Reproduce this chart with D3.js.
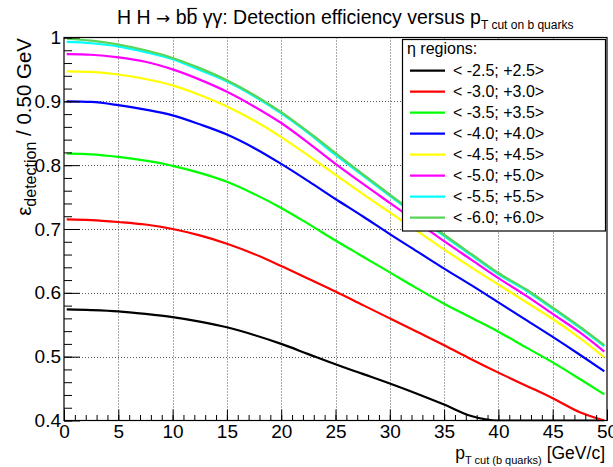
<!DOCTYPE html>
<html>
<head>
<meta charset="utf-8">
<script src="https://cdn.jsdelivr.net/npm/d3@7"></script>
<style>
  body { margin: 0; background: #fff; }
  svg { display: block; font-family: "Liberation Sans", Arial, Helvetica, sans-serif; }
</style>
</head>
<body>
<svg id="chart" width="613" height="467"></svg>
<script>
// pT cut on b quarks [GeV/c] at which the efficiency is sampled
const ptCut = [0.25, 2.5, 5, 7.5, 10, 12.5, 15, 17.5, 20, 22.5, 25, 27.5, 30, 32.5, 35, 37.5, 40, 42.5, 45, 47.5, 49.75];

// detection efficiency for each |eta| acceptance window
const effEta25 = [0.574, 0.573, 0.571, 0.567, 0.562, 0.555, 0.546, 0.534, 0.520, 0.504, 0.488, 0.473, 0.458, 0.442, 0.425, 0.407, 0.392, 0.379, 0.366, 0.353, 0.342];
const effEta30 = [0.715, 0.714, 0.711, 0.707, 0.700, 0.690, 0.677, 0.661, 0.642, 0.622, 0.602, 0.581, 0.560, 0.539, 0.518, 0.496, 0.475, 0.455, 0.435, 0.413, 0.394];
const effEta35 = [0.818, 0.817, 0.813, 0.807, 0.799, 0.788, 0.774, 0.755, 0.733, 0.708, 0.682, 0.657, 0.632, 0.607, 0.583, 0.561, 0.539, 0.515, 0.491, 0.465, 0.441];
const effEta40 = [0.900, 0.899, 0.894, 0.887, 0.878, 0.864, 0.848, 0.827, 0.802, 0.775, 0.747, 0.720, 0.692, 0.665, 0.638, 0.612, 0.585, 0.558, 0.531, 0.503, 0.477];
const effEta45 = [0.947, 0.946, 0.942, 0.935, 0.925, 0.910, 0.892, 0.870, 0.844, 0.815, 0.785, 0.755, 0.726, 0.697, 0.668, 0.640, 0.613, 0.586, 0.559, 0.529, 0.499];
const effEta50 = [0.974, 0.973, 0.969, 0.962, 0.950, 0.934, 0.915, 0.892, 0.866, 0.835, 0.802, 0.771, 0.741, 0.711, 0.681, 0.652, 0.623, 0.596, 0.567, 0.538, 0.508];
const effEta55 = [0.993, 0.991, 0.986, 0.977, 0.966, 0.949, 0.931, 0.908, 0.881, 0.850, 0.816, 0.784, 0.752, 0.720, 0.689, 0.659, 0.629, 0.604, 0.575, 0.545, 0.516];
const effEta60 = [0.998, 0.995, 0.989, 0.980, 0.968, 0.952, 0.933, 0.910, 0.883, 0.852, 0.819, 0.786, 0.754, 0.722, 0.691, 0.661, 0.631, 0.606, 0.577, 0.547, 0.518];

const etaLabels = ["< -2.5; +2.5>", "< -3.0; +3.0>", "< -3.5; +3.5>", "< -4.0; +4.0>",
                   "< -4.5; +4.5>", "< -5.0; +5.0>", "< -5.5; +5.5>", "< -6.0; +6.0>"];
const etaColors = ["#000000", "#ff0000", "#00ff00", "#0000ff", "#ffff00", "#ff00ff", "#00ffff", "#59d454"];

const xTickLabels = [0, 5, 10, 15, 20, 25, 30, 35, 40, 45, 50];
const yTickLabels = [0.4, 0.5, 0.6, 0.7, 0.8, 0.9, 1];

const series = [effEta25, effEta30, effEta35, effEta40, effEta45, effEta50, effEta55, effEta60];

const svg = d3.select("#chart");
const frame = { left: 64, right: 607, top: 37.5, bottom: 420.5 };

const x = d3.scaleLinear().domain([0, 50]).range([frame.left, frame.right]);
const y = d3.scaleLinear().domain([0.4, 1]).range([frame.bottom, frame.top]).clamp(true);

svg.append("rect").attr("width", 613).attr("height", 467).attr("fill", "#fff");

// dotted grid
const grid = svg.append("g").attr("stroke", "#555").attr("stroke-width", 1).attr("stroke-dasharray", "1,2");
grid.selectAll(".gx").data(xTickLabels.slice(1, -1)).join("line")
  .attr("x1", d => Math.round(x(d)) + 0.5).attr("x2", d => Math.round(x(d)) + 0.5)
  .attr("y1", frame.top).attr("y2", frame.bottom);
grid.selectAll(".gy").data(yTickLabels.slice(1, -1)).join("line")
  .attr("y1", d => Math.round(y(d)) + 0.5).attr("y2", d => Math.round(y(d)) + 0.5)
  .attr("x1", frame.left).attr("x2", frame.right);

// curves
svg.append("defs").append("clipPath").attr("id", "plotClip")
  .append("rect").attr("x", frame.left).attr("y", frame.top - 1)
  .attr("width", frame.right - frame.left).attr("height", frame.bottom - frame.top + 2);

const line = d3.line().x((d, i) => x(ptCut[i])).y(d => y(d)).curve(d3.curveMonotoneX);
svg.append("g").attr("clip-path", "url(#plotClip)")
  .selectAll("path").data(series).join("path")
  .attr("d", d => line(d))
  .attr("fill", "none")
  .attr("stroke", (d, i) => etaColors[i])
  .attr("stroke-width", 2.2)
  .attr("stroke-linejoin", "round");

// axes with inward ticks
const minorX = d3.range(0, 51, 1);
const minorY = d3.range(0.4, 1.0001, 0.02);
const fontSize = 19;

const xAxisG = svg.append("g").attr("transform", `translate(0,${frame.bottom})`);
xAxisG.call(d3.axisBottom(x).tickValues(minorX).tickSize(-5.5).tickFormat(""));
xAxisG.append("g").call(d3.axisBottom(x).tickValues(xTickLabels).tickSize(-11).tickPadding(4).tickFormat(d3.format("d")));
xAxisG.selectAll(".domain").remove();
xAxisG.selectAll("line").attr("stroke", "#000");
xAxisG.selectAll("text").attr("font-size", fontSize).attr("fill", "#000").attr("font-family", null);

const yAxisG = svg.append("g").attr("transform", `translate(${frame.left},0)`);
yAxisG.call(d3.axisLeft(y).tickValues(minorY).tickSize(-8).tickFormat(""));
yAxisG.append("g").call(d3.axisLeft(y).tickValues(yTickLabels).tickSize(-16).tickPadding(3).tickFormat(d => d === 1 ? "1" : d3.format(".1f")(d)));
yAxisG.selectAll(".domain").remove();
yAxisG.selectAll("line").attr("stroke", "#000");
yAxisG.selectAll("text").attr("font-size", fontSize).attr("fill", "#000").attr("font-family", null);

// frame
svg.append("rect")
  .attr("x", frame.left).attr("y", frame.top)
  .attr("width", frame.right - frame.left).attr("height", frame.bottom - frame.top)
  .attr("fill", "none").attr("stroke", "#000").attr("stroke-width", 1.2);

// legend
const legend = svg.append("g");
legend.append("rect")
  .attr("x", 402.5).attr("y", 39.5).attr("width", 203).attr("height", 191.5)
  .attr("fill", "#fff").attr("stroke", "#000").attr("stroke-width", 1.2);
legend.append("text").attr("x", 407).attr("y", 48).attr("dy", "0.35em")
  .attr("font-size", 16).text("η regions:");
const rows = legend.selectAll(".row").data(etaLabels).join("g")
  .attr("transform", (d, i) => `translate(0,${70.7 + i * 21})`);
rows.append("line").attr("x1", 410).attr("x2", 445)
  .attr("stroke", (d, i) => etaColors[i]).attr("stroke-width", 2.2);
rows.append("text").attr("x", 453).attr("dy", "0.35em").attr("font-size", 16).text(d => d);

// title
const titleY = 24;
const title = svg.append("text").attr("x", 117).attr("y", titleY).attr("font-size", 19.5);
title.append("tspan").text("H H ");
title.append("tspan").attr("font-family", "DejaVu Sans").attr("font-size", 17).text("→");
title.append("tspan").text(" bb");
title.append("tspan").text(" γγ: Detection efficiency versus p");
title.append("tspan").attr("font-size", 12).attr("dy", 5).text("T cut on b quarks");
{
  // bar over the second b (anti-quark)
  const node = title.node();
  const s = node.getStartPositionOfChar(7), e = node.getEndPositionOfChar(7);
  svg.append("line").attr("x1", s.x + 1).attr("x2", e.x - 0.5)
    .attr("y1", titleY - 15.5).attr("y2", titleY - 15.5).attr("stroke", "#000").attr("stroke-width", 1.2);
}

// y axis title
const yTitle = svg.append("text")
  .attr("transform", "translate(31,38) rotate(-90)")
  .attr("text-anchor", "end").attr("font-size", 20.5);
yTitle.append("tspan").text("ε");
yTitle.append("tspan").attr("font-size", 16).attr("dy", 5).text("detection");
yTitle.append("tspan").attr("dy", -5).text(" / 0.50 GeV");

// x axis title
const xTitle = svg.append("text").attr("x", 605).attr("y", 459)
  .attr("text-anchor", "end").attr("font-size", 17.5);
xTitle.append("tspan").text("p");
xTitle.append("tspan").attr("font-size", 11).attr("dy", 5).text("T cut (b quarks)");
xTitle.append("tspan").attr("dy", -5).text(" [GeV/c]");
</script>
</body>
</html>
